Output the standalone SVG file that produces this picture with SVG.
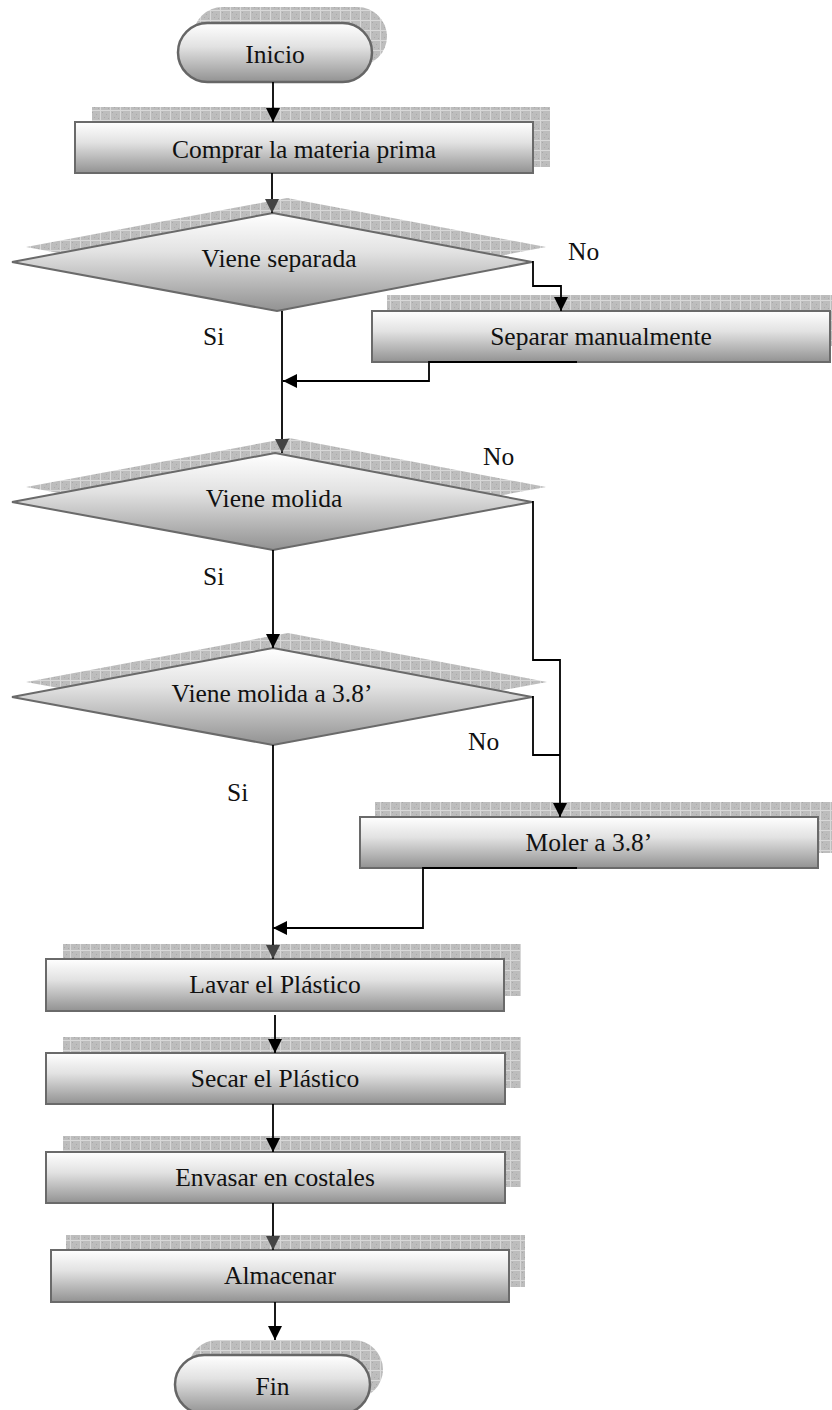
<svg xmlns="http://www.w3.org/2000/svg" width="832" height="1410" viewBox="0 0 832 1410">
<style>
.sh{fill:url(#grid)}
.nd{fill:url(#g);stroke:#6a6a6a;stroke-width:2}
.pl{fill:url(#g);stroke:#666;stroke-width:2.5}
.t{font-family:"Liberation Serif","Times New Roman",serif;font-size:25.5px;fill:#111}
.c{text-anchor:middle}
.cn{fill:none;stroke:#000;stroke-width:1.8}
</style>
<defs>
<pattern id="grid" width="10" height="10" patternUnits="userSpaceOnUse">
<rect width="10" height="10" fill="#bdbdbd"/>
<rect x="2" y="2" width="1" height="1" fill="#a8a8a8"/><rect x="6" y="4" width="1" height="1" fill="#a8a8a8"/><rect x="4" y="7" width="1" height="1" fill="#a8a8a8"/><rect x="8" y="8" width="1" height="1" fill="#a8a8a8"/>
<path d="M0,0.5H10M0.5,0V10" stroke="#d8d8d8" stroke-width="1"/>
</pattern>
<linearGradient id="g" x1="0" y1="0" x2="0" y2="1">
<stop offset="0" stop-color="#ffffff"/>
<stop offset="0.4" stop-color="#e2e2e2"/>
<stop offset="1" stop-color="#929292"/>
</linearGradient>
<marker id="a" markerUnits="userSpaceOnUse" markerWidth="14" markerHeight="14" refX="14" refY="7" orient="auto">
<path d="M0,0L14,7L0,14z" fill="#000"/>
</marker>
<marker id="ad" markerUnits="userSpaceOnUse" markerWidth="14" markerHeight="14" refX="14" refY="7" orient="auto">
<path d="M0,0L14,7L0,14z" fill="#444"/>
</marker>
</defs>
<rect width="832" height="1410" fill="#fff"/>

<g id="inicio">
<rect class="sh" x="193" y="7" width="194" height="59" rx="29.5"/>
<rect class="pl" x="178" y="23" width="194" height="59" rx="29.5"/>
<text class="t c" x="275" y="63">Inicio</text>
</g>

<g id="comprar">
<rect class="sh" x="92" y="107" width="458" height="60"/>
<rect class="nd" x="75" y="122" width="458" height="51"/>
<text class="t c" x="304" y="158">Comprar la materia prima</text>
</g>

<g id="d1">
<polygon class="sh" points="287,198 546,247 291,296 26,247"/>
<polygon class="nd" points="273,213 532,262 277,311 12,262"/>
<text class="t c" x="279" y="267">Viene separada</text>
</g>

<g id="separar">
<rect class="sh" x="387" y="295" width="460" height="51"/>
<rect class="nd" x="372" y="311" width="458" height="51"/>
<text class="t c" x="601" y="345">Separar manualmente</text>
</g>

<g id="d2">
<polygon class="sh" points="289,438 546,487 287,535 26,487"/>
<polygon class="nd" points="275,453 532,502 273,550 12,502"/>
<text class="t c" x="274" y="507">Viene molida</text>
</g>

<g id="d3">
<polygon class="sh" points="288,633 547,682 287,730 26,682"/>
<polygon class="nd" points="273,648 532,697 273,745 12,697"/>
<text class="t c" x="272" y="702">Viene molida a 3.8’</text>
</g>

<g id="moler">
<rect class="sh" x="375" y="802" width="460" height="51"/>
<rect class="nd" x="360" y="817" width="458" height="51"/>
<text class="t c" x="589" y="851">Moler a 3.8’</text>
</g>

<g id="lavar">
<rect class="sh" x="63" y="944" width="458" height="52"/>
<rect class="nd" x="46" y="959" width="458" height="52"/>
<text class="t c" x="275" y="993">Lavar el Plástico</text>
</g>

<g id="secar">
<rect class="sh" x="63" y="1037" width="458" height="51"/>
<rect class="nd" x="46" y="1053" width="459" height="51"/>
<text class="t c" x="275" y="1087">Secar el Plástico</text>
</g>

<g id="envasar">
<rect class="sh" x="63" y="1136" width="458" height="51"/>
<rect class="nd" x="46" y="1152" width="459" height="51"/>
<text class="t c" x="275" y="1186">Envasar en costales</text>
</g>

<g id="almacenar">
<rect class="sh" x="66" y="1235" width="459" height="52"/>
<rect class="nd" x="51" y="1250" width="458" height="52"/>
<text class="t c" x="280" y="1284">Almacenar</text>
</g>

<g id="fin">
<rect class="sh" x="188" y="1340" width="195" height="59" rx="29.5"/>
<rect class="pl" x="175" y="1355" width="195" height="59" rx="29.5"/>
<text class="t c" x="272.5" y="1395">Fin</text>
</g>

<g id="connectors">
<path class="cn" d="M273,82V122" marker-end="url(#a)"/>
<path class="cn" d="M272,173V213" marker-end="url(#ad)"/>
<path class="cn" d="M532,262H533V286H561V311" marker-end="url(#a)"/>
<path class="cn" d="M577,362H429V381H283" marker-end="url(#a)"/>
<path class="cn" d="M282,311V453" marker-end="url(#ad)"/>
<path class="cn" d="M532,502H533V660H560V817" marker-end="url(#a)"/>
<path class="cn" d="M532,697H533V755H560"/>
<path class="cn" d="M273,550V648" marker-end="url(#a)"/>
<path class="cn" d="M273,745V959" marker-end="url(#ad)"/>
<path class="cn" d="M577,868H423V928H273" marker-end="url(#a)"/>
<path class="cn" d="M275,1015V1053" marker-end="url(#a)"/>
<path class="cn" d="M273,1104V1152" marker-end="url(#a)"/>
<path class="cn" d="M273,1203V1250" marker-end="url(#ad)"/>
<path class="cn" d="M275,1302V1340" marker-end="url(#a)"/>
</g>

<g id="labels">
<text class="t" x="568" y="260">No</text>
<text class="t" x="203" y="345">Si</text>
<text class="t" x="483" y="465">No</text>
<text class="t" x="203" y="585">Si</text>
<text class="t" x="468" y="750">No</text>
<text class="t" x="227" y="801">Si</text>
</g>
</svg>
